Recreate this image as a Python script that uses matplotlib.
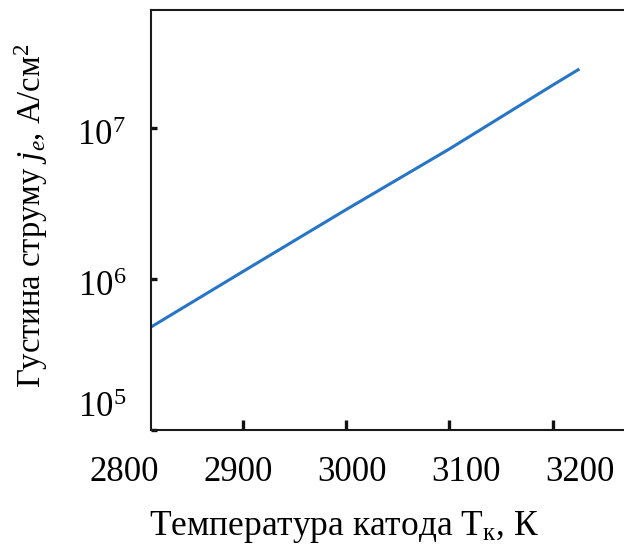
import matplotlib
matplotlib.use("Agg")
import matplotlib.pyplot as plt
from matplotlib.transforms import ScaledTranslation
from matplotlib.ticker import LogLocator, LogFormatterMathtext, NullLocator

plt.rcParams["font.family"] = ["Liberation Serif", "DejaVu Serif"]
plt.rcParams["mathtext.fontset"] = "custom"
plt.rcParams["mathtext.rm"] = "Liberation Serif"
plt.rcParams["mathtext.it"] = "Liberation Serif:italic"
plt.rcParams["mathtext.bf"] = "Liberation Serif:bold"

# Cathode temperature (K) and emission current density (A/cm^2)
temperature = [2800, 2900, 3000, 3100, 3200, 3226]
current_density = [4.33e5, 1.12e6, 2.88e6, 7.26e6, 1.92e7, 2.46e7]

x_ticks = [2800, 2900, 3000, 3100, 3200]
x_labels = ["2800", "2900", "3000", "3100", "3200"]

TICK_FS = 25
X_PAD = 19

fig = plt.figure(figsize=(6.24, 5.45), dpi=100)
ax = fig.add_axes([0.242, 0.211, 0.809, 0.7706])

ax.plot(temperature, current_density, color="#2775c6", lw=2.2,
        solid_capstyle="butt")

ax.set_yscale("log")
ax.set_xlim(2811, 3300)
ax.set_ylim(1e5, 6.04e7)

ax.yaxis.set_major_locator(LogLocator(base=10, numticks=10))
ax.yaxis.set_major_formatter(LogFormatterMathtext())
ax.yaxis.set_minor_locator(NullLocator())

ax.set_xticks(x_ticks[1:])
ax.set_xticklabels(x_labels[1:])

ax.tick_params(axis="x", direction="in", length=7.5, width=2.4, pad=X_PAD,
               labelsize=TICK_FS, color="#111111")
ax.tick_params(axis="y", direction="in", length=4.5, width=2.4, pad=18,
               labelsize=TICK_FS, color="#111111")

fig.canvas.draw()


def shift(artist, dx_px, dy_px):
    artist.set_transform(artist.get_transform()
                         + ScaledTranslation(dx_px / fig.dpi, dy_px / fig.dpi,
                                             fig.dpi_scale_trans))


# temperature labels are spread slightly wider than the tick spacing
x_px_per_k = (ax.transData.transform((3100, 1e6))[0]
              - ax.transData.transform((3000, 1e6))[0]) / 100


def label_offset_px(t):
    return 6 + 0.103 * (t - 3000) * x_px_per_k


for lbl in ax.get_xticklabels():
    shift(lbl, label_offset_px(lbl.get_position()[0]), 0)

# first temperature label sits just left of the axis origin
ax.annotate(x_labels[0], xy=(x_ticks[0], 0),
            xycoords=("data", "axes fraction"),
            xytext=(label_offset_px(x_ticks[0]) * 72 / fig.dpi, -X_PAD),
            textcoords="offset points",
            ha="center", va="top", fontsize=TICK_FS, annotation_clip=False)

for lbl in ax.get_yticklabels():
    dy = -5
    # lowest decade label is lifted clear of the temperature labels
    if lbl.get_position()[1] == 1e5:
        dy += 31
    shift(lbl, 0, dy)

for side in ("left", "top", "bottom"):
    ax.spines[side].set_linewidth(1.5)
    ax.spines[side].set_color("#1a1a1a")
ax.spines["right"].set_visible(False)

fig.text(344 / 624, 0.018, "Температура катода T$_{\\mathrm{к}}$, К",
         ha="center", va="baseline", fontsize=25.5)
fig.text(31 / 624, 0.6037, "Густина струму $j_e$, А/см$^2$",
         ha="center", va="center", rotation=90, fontsize=23.5)

fig.savefig("out.png", dpi=100)
